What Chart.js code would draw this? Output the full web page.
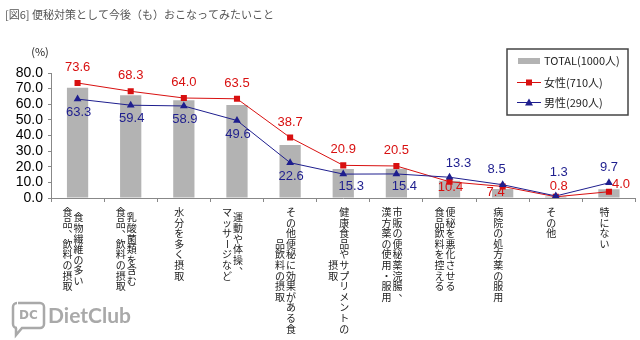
<!DOCTYPE html>
<html>
<head>
<meta charset="utf-8">
<script src="https://cdn.jsdelivr.net/npm/chart.js@4"></script>
<style>
  body { margin: 0; background: #fff; }
  #wrap { width: 640px; height: 340px; }
</style>
</head>
<body>
<div id="wrap"><canvas id="myChart" width="640" height="340"></canvas></div>
<script>
// category labels, one string per vertical column (right column first)
const categories = [
  ["食物繊維の多い", "食品、飲料の摂取"],
  ["乳酸菌類を含む", "食品、飲料の摂取"],
  ["水分を多く摂取"],
  ["運動や体操、", "マッサージなど"],
  ["その他便秘に効果がある食", "品飲料の摂取"],
  ["健康食品やサプリメントの", "摂取"],
  ["市販の便秘薬浣腸、", "漢方薬の使用・服用"],
  ["便秘を悪化させる", "食品飲料を控える"],
  ["病院の処方薬の服用"],
  ["その他"],
  ["特にない"],
];

const seriesNames = ["TOTAL(1000人)", "女性(710人)", "男性(290人)"];

const total = [70.6, 65.7, 62.5, 59.6, 33.9, 18.5, 18.8, 11.1, 5.8, 0.9, 5.6];
const female = [73.6, 68.3, 64.0, 63.5, 38.7, 20.9, 20.5, 10.4, 7.4, 0.8, 4.0];
const male = [63.3, 59.4, 58.9, 49.6, 22.6, 15.3, 15.4, 13.3, 8.5, 1.3, 9.7];

const yTicks = [0, 10, 20, 30, 40, 50, 60, 70, 80];

// where each value label sits relative to its point
const femaleLabelPos = ["above", "above", "above", "above", "above", "above", "above",
  "under", "underLeft", "aboveNear", "right"];
const maleLabelPos = ["below", "below", "below", "below", "below", "belowRight", "belowRight",
  "aboveRight", "aboveLeft", "aboveFar", "above"];

const labelShift = {
  above: [0, -15.5],
  aboveNear: [3, -10],
  aboveFar: [3, -24],
  aboveRight: [9, -14],
  aboveLeft: [-6, -15],
  below: [1, 13.5],
  belowRight: [8, 12],
  under: [1, 6],
  underLeft: [-7, 6],
  right: [12, -7],
};

const RED = "#d81010";
const BLUE = "#1e1e8e";

const extras = {
  id: "extras",
  afterDraw(chart) {
    const c = chart.ctx;
    const xs = chart.scales.x;
    c.save();

    // title
    c.fillStyle = "#555";
    c.font = "11px 'Noto Sans CJK JP'";
    c.textAlign = "left";
    c.textBaseline = "middle";
    c.fillText("[図6] 便秘対策として今後（も）おこなってみたいこと", 5, 15);

    // unit
    c.fillStyle = "#222";
    c.font = "11px 'Noto Sans CJK JP'";
    c.textAlign = "center";
    c.fillText("(%)", 40, 52);

    // value labels
    c.font = "13px 'Liberation Sans'";
    const putLabels = (dsIndex, values, pos, color) => {
      const pts = chart.getDatasetMeta(dsIndex).data;
      c.fillStyle = color;
      pts.forEach((p, i) => {
        const [dx, dy] = labelShift[pos[i]];
        c.fillText(values[i].toFixed(1), p.x + dx, p.y + dy);
      });
    };
    putLabels(1, female, femaleLabelPos, RED);
    putLabels(0, male, maleLabelPos, BLUE);

    // vertical category labels
    c.fillStyle = "#222";
    c.font = "10px 'Noto Sans CJK JP'";
    const pitch = 10.6;
    const top = 207;
    categories.forEach((cols, i) => {
      const cx = xs.getPixelForValue(i);
      const n = cols.length;
      const maxLen = Math.max(...cols.map((s) => [...s].length));
      cols.forEach((txt, j) => {
        const chars = [...txt];
        const x = cx - 4.5 + ((n - 1) / 2 - j) * 11;
        const y0 = top + ((maxLen - chars.length) * pitch) / 2;
        chars.forEach((ch, k) => {
          const y = y0 + k * pitch + pitch / 2;
          if (ch === "ー") {
            c.save();
            c.translate(x, y);
            c.rotate(Math.PI / 2);
            c.fillText(ch, 0, 0);
            c.restore();
          } else if (ch === "、") {
            c.fillText(ch, x + 6, y - 5);
          } else {
            c.fillText(ch, x, y);
          }
        });
      });
    });

    // legend box
    const lx = 507, ly = 49, lw = 121, lh = 66;
    c.strokeStyle = "#444";
    c.lineWidth = 1.5;
    c.strokeRect(lx, ly, lw, lh);
    c.textAlign = "left";
    const rows = [61, 82.5, 102.5];
    // bar swatch
    c.fillStyle = "#b3b3b3";
    c.fillRect(518, rows[0] - 3, 22, 6);
    // red line + square
    c.strokeStyle = RED;
    c.lineWidth = 1;
    c.beginPath(); c.moveTo(517, rows[1]); c.lineTo(541, rows[1]); c.stroke();
    c.fillStyle = RED;
    c.fillRect(526, rows[1] - 3, 6, 6);
    // blue line + triangle
    c.strokeStyle = BLUE;
    c.beginPath(); c.moveTo(517, rows[2]); c.lineTo(541, rows[2]); c.stroke();
    c.fillStyle = BLUE;
    c.beginPath();
    c.moveTo(529, rows[2] - 4); c.lineTo(533, rows[2] + 3); c.lineTo(525, rows[2] + 3);
    c.closePath(); c.fill();
    c.fillStyle = "#222";
    c.font = "11px 'Noto Sans CJK JP'";
    seriesNames.forEach((name, i) => c.fillText(name, 544, rows[i]));

    // watermark
    c.strokeStyle = "#a9a9a9";
    c.fillStyle = "#a9a9a9";
    c.lineWidth = 2.5;
    c.beginPath();
    c.moveTo(18, 303);
    c.lineTo(40, 303);
    c.arcTo(44, 303, 44, 307, 4);
    c.lineTo(44, 324);
    c.arcTo(44, 328, 40, 328, 4);
    c.lineTo(22, 328);
    c.lineTo(16, 335);
    c.lineTo(16, 328);
    c.arcTo(13, 328, 13, 324, 4);
    c.lineTo(13, 307);
    c.arcTo(13, 303, 18, 303, 4);
    c.stroke();
    c.font = "bold 12px 'DejaVu Sans'";
    c.textAlign = "center";
    c.fillText("DC", 28.5, 316);
    c.textAlign = "left";
    c.font = "bold 21px Lato";
    c.fillText("DietClub", 48, 316);

    c.restore();
  },
};

const ctx = document.getElementById("myChart").getContext("2d");

const aChart = new Chart(ctx, {
  type: "bar",
  data: {
    labels: categories.map((c) => c.join("")),
    datasets: [
      {
        type: "line",
        label: seriesNames[2],
        data: male,
        borderColor: BLUE,
        backgroundColor: BLUE,
        borderWidth: 1,
        pointStyle: "triangle",
        pointRadius: 4.5,
        pointBorderWidth: 0,
        tension: 0,
        order: 0,
      },
      {
        type: "line",
        label: seriesNames[1],
        data: female,
        borderColor: RED,
        backgroundColor: RED,
        borderWidth: 1,
        pointStyle: "rect",
        pointRadius: 4.3,
        pointBorderWidth: 0,
        tension: 0,
        order: 1,
      },
      {
        type: "bar",
        label: seriesNames[0],
        data: total,
        backgroundColor: "#b3b3b3",
        barPercentage: 0.4,
        categoryPercentage: 1,
        order: 2,
      },
    ],
  },
  options: {
    responsive: false,
    animation: false,
    layout: { padding: { top: 73, right: 1, bottom: 138, left: 0 } },
    plugins: { legend: { display: false }, tooltip: { enabled: false } },
    scales: {
      x: {
        offset: true,
        grid: { display: true, drawOnChartArea: false, drawTicks: true, tickLength: 4, color: "#888", offset: true },
        border: { color: "#888" },
        ticks: { display: false },
      },
      y: {
        min: 0,
        max: 80,
        afterBuildTicks: (s) => { s.ticks = yTicks.map((v) => ({ value: v })); },
        afterFit: (s) => { s.width = 51; },
        ticks: {
          autoSkip: false,
          callback: (v) => Number(v).toFixed(1),
          font: { family: "Liberation Sans", size: 14 },
          color: "#000",
          padding: 5,
        },
        grid: { drawOnChartArea: false, tickLength: 3, color: "#888" },
        border: { color: "#888" },
      },
    },
  },
  plugins: [extras],
});
</script>
</body>
</html>
